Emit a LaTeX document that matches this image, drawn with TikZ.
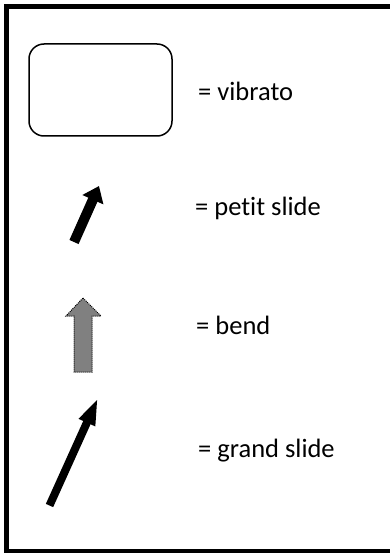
\documentclass[tikz,border=0pt]{standalone}
\usepackage{fontspec}
\setmainfont{Carlito}[Ligatures=NoCommon]
\usepackage{xcolor}
\usepackage{tikz}
\usetikzlibrary{arrows.meta,positioning}
\tikzset{
  frame/.style={draw=black, line width=5pt},
  legbox/.style={draw, rounded corners=15pt, line width=1.5pt, minimum width=143pt, minimum height=92pt, inner sep=0pt},
  legtext/.style={anchor=base west, inner sep=0pt, font=\fontsize{26.5}{30}\selectfont},
  slide/.style={line width=#1, draw=black},
  bendarrow/.style={draw=black, densely dotted, line width=1pt, fill=black!50}
}
\begin{document}
\begin{tikzpicture}[x=1pt,y=-1pt]
			\useasboundingbox (0,0) rectangle (389,553);
			\draw[frame] (6,7) rectangle (392,551);
			% vibrato
			\node[legbox] (vib) at (100.5,90) {};
			\node[legtext] (vibt) at (198,101) {= vibrato};
			% petit slide
			\coordinate (ps0) at (74,242);
			\coordinate (ps1) at (99,186);
			\draw[slide=10pt, -{Triangle[length=15pt,width=22pt]}] (ps0) -- (ps1);
			\node[legtext] (pst) at (195,215) {= petit slide};
			% bend
			\draw[bendarrow] (83,298) coordinate (bd1) -- (101,316) -- (92,316) -- (92,372)
				-- (74,372) -- (74,316) -- (66,316) -- cycle;
			\node[legtext] (bdt) at (196,334) {= bend};
			% grand slide
			\coordinate (gs0) at (49.5,505.5);
			\coordinate (gs1) at (98,398);
			\draw[slide=8pt, -{Triangle[length=27pt,width=16pt]}] (gs0) -- (gs1);
			\node[legtext] (gst) at (198,457) {= grand slide};
\end{tikzpicture}
\end{document}
